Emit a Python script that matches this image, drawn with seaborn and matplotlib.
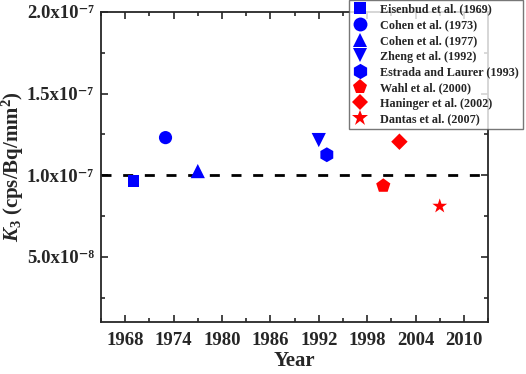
import matplotlib
matplotlib.use("Agg")
import matplotlib.pyplot as plt
from matplotlib.lines import Line2D
import seaborn as sns
import pandas as pd
import math
from matplotlib.ticker import MultipleLocator, FuncFormatter

studies = ["Eisenbud et al. (1969)", "Cohen et al. (1973)", "Cohen et al. (1977)",
           "Zheng et al. (1992)", "Estrada and Laurer (1993)", "Wahl et al. (2000)",
           "Haninger et al. (2002)", "Dantas et al. (2007)"]
years = [1969, 1973, 1977, 1992, 1993, 2000, 2002, 2007]
k3 = [0.965e-7, 1.23e-7, 1.025e-7, 1.215e-7, 1.125e-7, 0.935e-7, 1.205e-7, 0.81e-7]
colors = ["#0000FF"] * 5 + ["#FF0000"] * 3
markers = ["s", "o", "^", "v", "h", "p", "D", "*"]
sizes = [66, 90, 105, 105, 115, 115, 70, 125]

df = pd.DataFrame({"Study": studies, "Year": years, "K3": k3})

sns.set_style("ticks")
plt.rcParams["font.family"] = ["Liberation Serif", "DejaVu Serif"]
plt.rcParams["font.weight"] = "bold"
plt.rcParams["mathtext.fontset"] = "custom"
plt.rcParams["mathtext.rm"] = "Liberation Serif:bold"
plt.rcParams["mathtext.it"] = "Liberation Serif:bold:italic"
plt.rcParams["mathtext.bf"] = "Liberation Serif:bold"

fig = plt.figure(figsize=(5.26, 3.74), dpi=100)
ax = fig.add_axes([0.192, 0.139, 0.736, 0.829])

ax.axhline(1.0e-7, color="black", linestyle=(0, (3.6, 4.2)), linewidth=2, zorder=1)

for i, s in enumerate(studies):
    sub = df[df["Study"] == s]
    sns.scatterplot(data=sub, x="Year", y="K3", ax=ax, color=colors[i],
                    marker=markers[i], s=sizes[i], edgecolor="none",
                    legend=False, zorder=3)

ax.set_xlim(1965, 2013)
ax.set_ylim(1.0e-8, 2.0e-7)
ax.xaxis.set_major_locator(MultipleLocator(6))
ax.xaxis.set_minor_locator(MultipleLocator(3))
ax.yaxis.set_major_locator(MultipleLocator(5e-8))
ax.yaxis.set_minor_locator(MultipleLocator(2.5e-8))

SUP = str.maketrans("-0123456789", "⁻⁰¹²³⁴⁵⁶⁷⁸⁹")

def yfmt(v, pos):
    if v <= 0:
        return ""
    e = int(math.floor(math.log10(v) + 1e-9))
    m = v / 10 ** e
    return "%.1fx10%s" % (m, str(e).translate(SUP))

ax.yaxis.set_major_formatter(FuncFormatter(yfmt))
ax.tick_params(which="both", direction="in", top=True, right=True, width=1.2)
ax.tick_params(which="major", length=5, labelsize=13.5)
ax.tick_params(axis="x", which="major", pad=7)
ax.tick_params(axis="y", which="major", pad=5)
ax.tick_params(which="minor", length=3)
for lab in ax.get_xticklabels() + ax.get_yticklabels():
    lab.set_fontweight("bold")
for sp in ax.spines.values():
    sp.set_linewidth(1.3)

ax.set_xlabel("Year", fontsize=15, fontweight="bold")
ax.set_ylabel(r"$K_3$ (cps/Bq/mm$^2$)", fontsize=15, fontweight="bold")
ax.xaxis.set_label_coords(0.5, -0.093)
ax.yaxis.set_label_coords(-0.195, 0.5)

msizes = [9, 10, 10.5, 10.5, 11, 11, 8.5, 12]
handles = [Line2D([0], [0], linestyle="none", marker=markers[i], color=colors[i],
                  markersize=msizes[i], markeredgewidth=0) for i in range(len(studies))]
leg = ax.legend(handles, studies, loc="upper right", bbox_to_anchor=(0.994, 1.0),
                bbox_transform=fig.transFigure, frameon=True,
                fancybox=False, edgecolor="#555555", borderpad=0.3,
                labelspacing=0.3, handletextpad=1.1, handlelength=1.2,
                borderaxespad=0.0, prop={"weight": "bold", "size": 8.75})
leg.get_frame().set_linewidth(1.0)
leg.set_zorder(5)

fig.savefig("out.png", dpi=100)
